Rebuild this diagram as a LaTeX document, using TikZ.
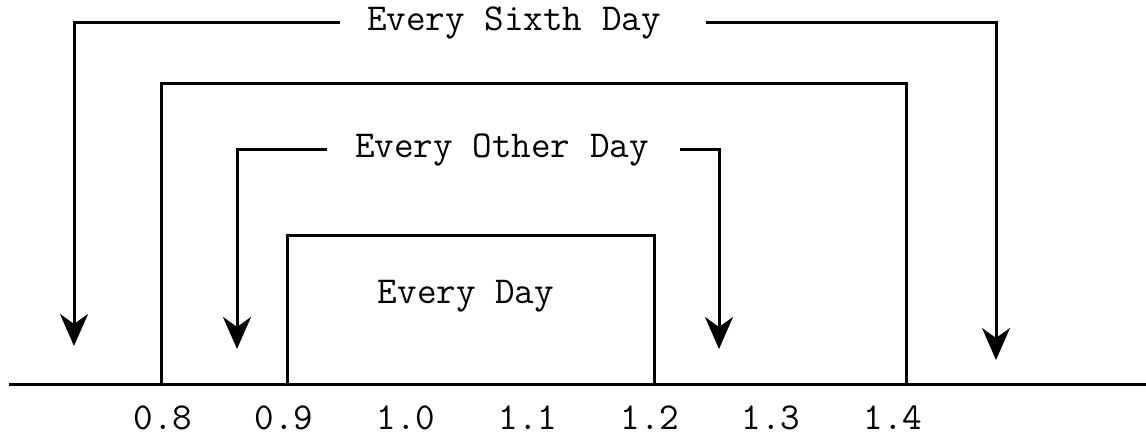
\documentclass[tikz,border=0pt]{standalone}
\usetikzlibrary{arrows.meta}
\begin{document}
\begin{tikzpicture}[x=0.5pt,y=-0.5pt,line width=1.5pt,>={Stealth[length=16pt,width=14pt,inset=5pt]}]
  \def\ax{384}
  \def\ty{418}

\tikzstyle{lbl}=[font=\fontsize{19}{21}\selectfont\ttfamily,inner sep=0pt]
\useasboundingbox (0,0) rectangle (1146,438);
% axis and the two boxes
\draw (9,\ax) -- (1146,\ax);
\draw (161,\ax) |- (906,84) -- (906,\ax);
\draw (287,\ax) |- (654,236) -- (654,\ax);
% texts
\node[lbl] (sixth) at (514,23) {Every Sixth Day};
\node[lbl] (other) at (502,150) {Every Other Day};
\node[lbl] (daily) at (466,296) {Every Day};
\foreach \x/\v [count=\i] in {163/0.8,284/0.9,406/1.0,528/1.1,650/1.2,771/1.3,893/1.4}
  \node[lbl] (tick\i) at (\x,\ty) {\v};
% arrow ends
\coordinate (sixthL) at (74,346);
\coordinate (sixthR) at (996,360);
\coordinate (otherL) at (237,349);
\coordinate (otherR) at (719,349);
\draw[->] ([xshift=-13pt]sixth.west) -| (sixthL);
\draw[->] ([xshift=22pt]sixth.east) -| (sixthR);
\draw[->] ([xshift=-13.5pt]other.west) -| (otherL);
\draw[->] ([xshift=15pt]other.east) -| (otherR);
\end{tikzpicture}
\end{document}
